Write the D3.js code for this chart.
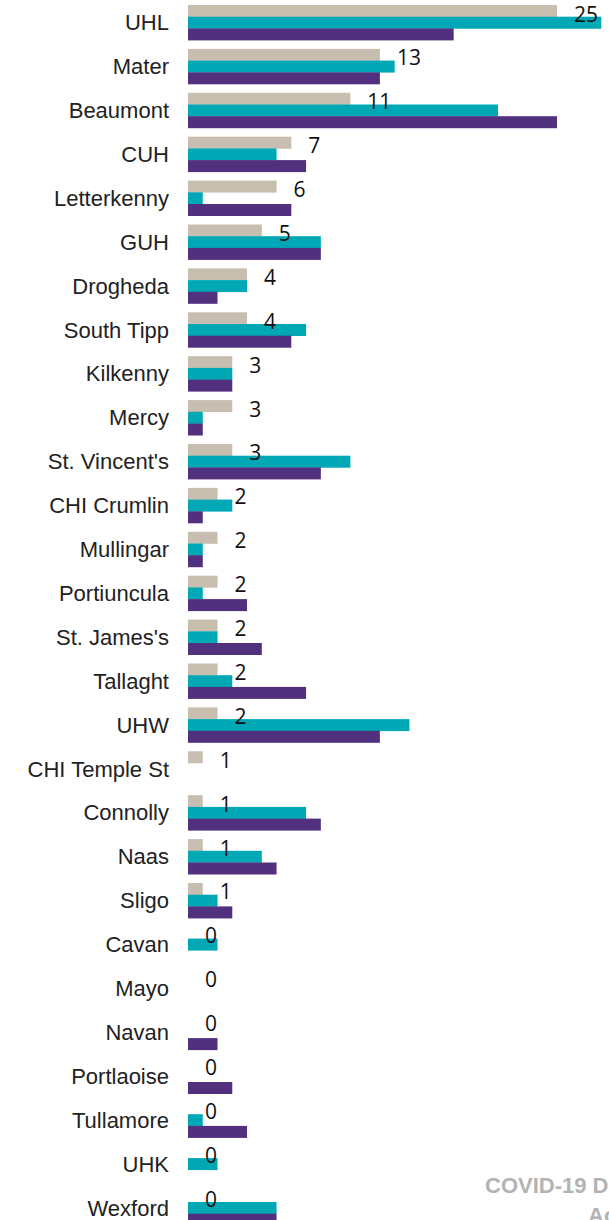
<!DOCTYPE html>
<html>
<head>
<meta charset="utf-8">
<script src="https://cdnjs.cloudflare.com/ajax/libs/d3/7.8.5/d3.min.js"></script>
<style>
  body { margin: 0; background: #fff; overflow: hidden; }
  svg { display: block; }
</style>
</head>
<body>
<div id="chart"></div>
<script>
// DATA
var hospitals = ["UHL", "Mater", "Beaumont", "CUH", "Letterkenny", "GUH", "Drogheda", "South Tipp",
    "Kilkenny", "Mercy", "St. Vincent's", "CHI Crumlin", "Mullingar", "Portiuncula", "St. James's",
    "Tallaght", "UHW", "CHI Temple St", "Connolly", "Naas", "Sligo", "Cavan", "Mayo", "Navan",
    "Portlaoise", "Tullamore", "UHK", "Wexford"];
var seriesA = [25, 13, 11, 7, 6, 5, 4, 4, 3, 3, 3, 2, 2, 2, 2, 2, 2, 1, 1, 1, 1, 0, 0, 0, 0, 0, 0, 0];
var seriesB = [28, 14, 21, 6, 1, 9, 4, 8, 3, 1, 11, 3, 1, 1, 2, 3, 15, 0, 8, 5, 2, 2, 0, 0, 0, 1, 2, 6];
var seriesC = [18, 13, 25, 8, 7, 9, 2, 7, 3, 1, 9, 1, 1, 4, 5, 8, 13, 0, 9, 6, 3, 0, 0, 2, 3, 4, 0, 6];
var seriesKeys = ["a", "b", "c"];
var seriesColors = ["#c8beb0", "#00a8b5", "#51307d"];
var footerLines = ["COVID-19 Dashboard", "Acute Hospitals"];

// SIZING
var W = 609, H = 1220;
var margin = {top: 0.6, left: 188};
var step = 43.9;

var rows = hospitals.map(function (h, i) {
    return {name: h, a: seriesA[i], b: seriesB[i], c: seriesC[i]};
});

var svg = d3.select("#chart").append("svg")
    .attr("width", W)
    .attr("height", H);

var x = d3.scaleLinear()
    .domain([0, 28])
    .range([margin.left, margin.left + 28 * 14.76]);

var y = d3.scaleBand()
    .domain(hospitals)
    .range([margin.top, margin.top + hospitals.length * step])
    .paddingInner(0.2)
    .paddingOuter(0.1);

var ySub = d3.scaleBand()
    .domain(seriesKeys)
    .range([0, y.bandwidth()]);

var color = d3.scaleOrdinal().domain(seriesKeys).range(seriesColors);

// footer text (runs off the right edge, as in the source)
svg.append("g").selectAll("text")
    .data(footerLines)
    .enter().append("text")
    .attr("x", function (d, i) { return i == 0 ? 485 : 588; })
    .attr("y", function (d, i) { return 1193 + i * 30; })
    .style("font-family", "'Liberation Sans', Arial, sans-serif")
    .style("font-weight", "bold")
    .style("font-size", "22px")
    .style("fill", "#b3b3b3")
    .text(function (d) { return d; });

// category labels
svg.append("g").selectAll("text")
    .data(rows)
    .enter().append("text")
    .attr("x", 169)
    .attr("y", function (d) { return y(d.name) + y.bandwidth() / 2; })
    .attr("dy", "0.35em")
    .attr("text-anchor", "end")
    .style("font-family", "'Liberation Sans', Arial, sans-serif")
    .style("font-size", "22px")
    .style("fill", "#222")
    .text(function (d) { return d.name; });

// bars
var groups = svg.append("g").selectAll("g")
    .data(rows)
    .enter().append("g")
    .attr("transform", function (d) { return "translate(0," + y(d.name) + ")"; });

groups.selectAll("rect")
    .data(function (d) {
        return seriesKeys.map(function (k) { return {key: k, value: d[k]}; });
    })
    .enter().append("rect")
    .attr("x", x(0))
    .attr("y", function (d) { return ySub(d.key); })
    .attr("height", ySub.bandwidth() + 0.3)
    .attr("width", function (d) { return x(d.value) - x(0); })
    .attr("fill", function (d) { return color(d.key); });

// value labels for first series
svg.append("g").selectAll("text")
    .data(rows)
    .enter().append("text")
    .attr("x", function (d) { return x(d.a) + 17; })
    .attr("y", function (d) { return y(d.name) + 16.5; })
    .style("font-family", "'Open Sans', 'Noto Sans', sans-serif")
    .style("font-size", "21px")
    .style("fill", "#111")
    .text(function (d) { return d.a; });
</script>
</body>
</html>
